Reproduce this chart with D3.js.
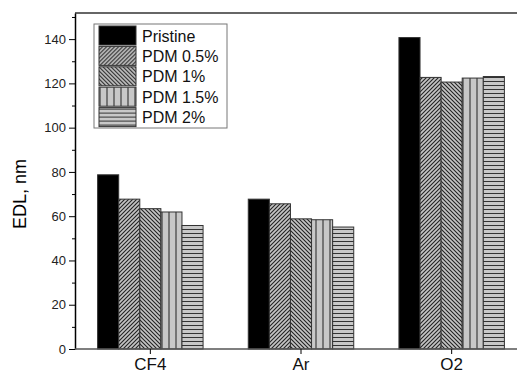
<!DOCTYPE html>
<html>
<head>
<meta charset="utf-8">
<script src="https://cdn.jsdelivr.net/npm/d3@7"></script>
<style>
  body { margin: 0; background: #fff; }
  text { font-family: Arial, "Liberation Sans", sans-serif; }
</style>
</head>
<body>
<script>
// data
var categories = ["CF4", "Ar", "O2"];
var seriesNames = ["Pristine", "PDM 0.5%", "PDM 1%", "PDM 1.5%", "PDM 2%"];
var pristine = [78.7, 67.7, 140.7];
var pdm05 = [67.7, 65.6, 122.7];
var pdm1 = [63.4, 58.8, 120.6];
var pdm15 = [61.9, 58.4, 122.4];
var pdm2 = [55.8, 55.1, 123.1];
var yTicks = [0, 20, 40, 60, 80, 100, 120, 140];

var seriesValues = [pristine, pdm05, pdm1, pdm15, pdm2];
var fills = ["#000", "url(#diagR)", "url(#diagL)", "url(#vert)", "url(#horiz)"];

var w = 517, h = 378;
var svg = d3.select("body").append("svg")
  .attr("width", w).attr("height", h);

// hatch patterns
var defs = svg.append("defs");
function pattern(id, size, lines) {
  var p = defs.append("pattern").attr("id", id)
    .attr("patternUnits", "userSpaceOnUse")
    .attr("width", size).attr("height", size);
  p.append("rect").attr("width", size).attr("height", size).attr("fill", "#c4c4c4");
  lines.forEach(function(l) {
    p.append("line").attr("x1", l[0]).attr("y1", l[1]).attr("x2", l[2]).attr("y2", l[3])
      .attr("stroke", "#222").attr("stroke-width", 1.1);
  });
}
pattern("diagR", 4, [[0, 4, 4, 0], [-1, 1, 1, -1], [3, 5, 5, 3]]);
pattern("diagL", 4, [[0, 0, 4, 4], [-1, 3, 1, 5], [3, -1, 5, 1]]);
var pv = defs.append("pattern").attr("id", "vert")
  .attr("patternUnits", "userSpaceOnUse").attr("width", 7).attr("height", 7)
  .attr("x", 0.5);
pv.append("rect").attr("width", 7).attr("height", 7).attr("fill", "#c8c8c8");
pv.append("line").attr("x1", 0.5).attr("x2", 0.5).attr("y1", 0).attr("y2", 7)
  .attr("stroke", "#222").attr("stroke-width", 1);
var ph = defs.append("pattern").attr("id", "horiz")
  .attr("patternUnits", "userSpaceOnUse").attr("width", 4).attr("height", 4);
ph.append("rect").attr("width", 4).attr("height", 4).attr("fill", "#c8c8c8");
ph.append("line").attr("x1", 0).attr("x2", 4).attr("y1", 1.5).attr("y2", 1.5)
  .attr("stroke", "#333").attr("stroke-width", 1);

var mLeft = 75, mRight = 527, mTop = 13, mBottom = 349;

var y = d3.scaleLinear().domain([0, 151.8]).range([mBottom, mTop]);
var x = d3.scaleBand().domain(categories).range([mLeft, mRight]).paddingInner(0.3).paddingOuter(0.15);
var xs = d3.scaleBand().domain(seriesNames).range([0, x.bandwidth()]);

// bars
seriesNames.forEach(function(name, si) {
  svg.append("g").selectAll("rect")
    .data(seriesValues[si])
    .enter().append("rect")
    .attr("x", function(d, i) { return x(categories[i]) + xs(name); })
    .attr("y", function(d) { return y(d); })
    .attr("width", xs.bandwidth())
    .attr("height", function(d) { return mBottom - y(d); })
    .attr("fill", fills[si])
    .attr("stroke", "#333").attr("stroke-width", 1);
});

// top frame
svg.append("line").attr("x1", mLeft).attr("x2", w).attr("y1", mTop).attr("y2", mTop)
  .attr("stroke", "#666").attr("stroke-width", 2);

// y axis
var yAxis = svg.append("g").attr("transform", "translate(" + mLeft + ",0)")
  .call(d3.axisLeft(y).tickValues(yTicks).tickSize(6).tickPadding(3).tickSizeOuter(0));
yAxis.select(".domain").attr("stroke", "#000").attr("stroke-width", 1.5);
yAxis.selectAll(".tick text").attr("font-size", 13).attr("fill", "#222");
yAxis.selectAll(".tick line").attr("stroke", "#000");
svg.append("g").attr("transform", "translate(" + mLeft + ",0)")
  .call(d3.axisLeft(y).tickValues(d3.range(10, 151, 20)).tickSize(3).tickFormat(""))
  .select(".domain").remove();

// x axis
var xAxis = svg.append("g").attr("transform", "translate(0," + mBottom + ")")
  .call(d3.axisBottom(x).tickSize(5).tickPadding(4).tickSizeOuter(0));
xAxis.select(".domain").attr("stroke", "#555").attr("stroke-width", 1.5)
  .attr("d", "M" + mLeft + ",0H" + w);
xAxis.selectAll(".tick text").attr("font-size", 17).attr("fill", "#111");

// y label
svg.append("text")
  .attr("transform", "translate(26,194) rotate(-90)")
  .attr("text-anchor", "middle")
  .attr("font-size", 18)
  .text("EDL, nm");

// legend
var lg = svg.append("g").attr("transform", "translate(94,24)");
lg.append("rect").attr("width", 133).attr("height", 104)
  .attr("fill", "#fff").attr("stroke", "#777").attr("stroke-width", 1);
seriesNames.forEach(function(name, i) {
  var row = lg.append("g").attr("transform", "translate(5," + (2 + i * 20.4) + ")");
  row.append("rect").attr("width", 37).attr("height", 19)
    .attr("fill", fills[i]).attr("stroke", "#333").attr("stroke-width", 1);
  row.append("text").attr("x", 43).attr("y", 15.5)
    .attr("font-size", 16).attr("fill", "#111").text(name);
});
</script>
</body>
</html>
